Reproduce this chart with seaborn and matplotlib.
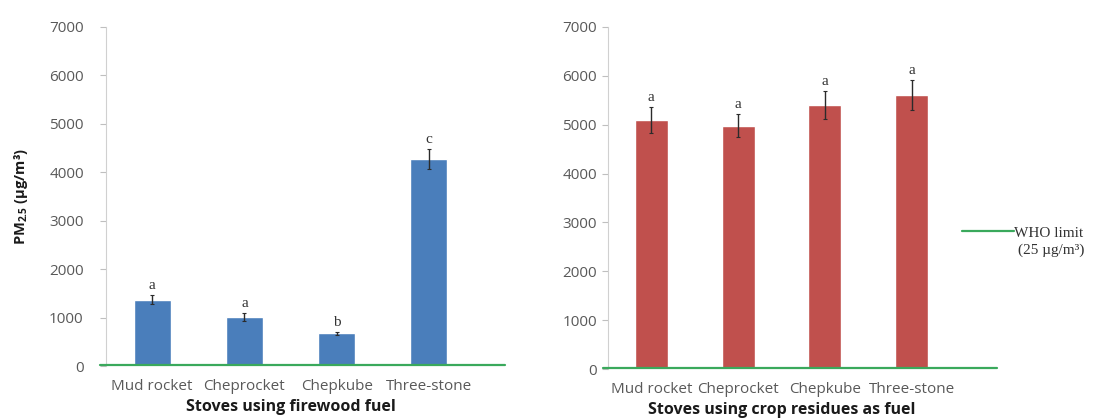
import matplotlib
matplotlib.use("Agg")
from matplotlib import pyplot as plt
import pandas as pd
import seaborn as sns

# values
stoves = ["Mud rocket", "Cheprocket", "Chepkube", "Three-stone"]
firewood_pm = [1370, 1010, 680, 4280]
firewood_err = [100, 80, 30, 210]
firewood_letters = ["a", "a", "b", "c"]
residue_pm = [5100, 4980, 5410, 5610]
residue_err = [270, 240, 290, 300]
residue_letters = ["a", "a", "a", "a"]
who_limit = 25

sns.set_style("white")
plt.rcParams["font.family"] = ["Open Sans", "DejaVu Sans"]
plt.rcParams["mathtext.default"] = "regular"

GREEN = "#3aa95c"
TICK_COLOR = "#595959"


def draw_panel(ax, values, errs, letters, color, xlabel, width, line_right, ypad):
    df = pd.DataFrame({"stove": stoves, "pm": values})
    sns.barplot(data=df, x="stove", y="pm", color=color, width=width,
                saturation=1, ax=ax, zorder=2)
    ax.errorbar(range(len(stoves)), values, yerr=errs, fmt="none",
                ecolor="#2b2b2b", elinewidth=1, capsize=1.5, capthick=0.8, zorder=3)
    for i, (v, e, lab) in enumerate(zip(values, errs, letters)):
        ax.annotate(lab, (i, v + e), xytext=(0, 2), textcoords="offset points",
                    ha="center", va="bottom", fontsize=11,
                    family="Liberation Serif", color="#333333")
    line = ax.axhline(who_limit, xmin=-0.015, xmax=line_right, color=GREEN,
                      lw=1.6, clip_on=False, zorder=4)
    ax.set_xlim(-0.5, len(stoves) - 0.5)
    ax.set_ylim(0, 7000)
    ax.set_yticks(range(0, 7001, 1000))
    ax.set_xticks([i - 0.5 for i in range(len(stoves) + 1)], minor=True)
    ax.tick_params(axis="x", which="major", length=0, pad=9,
                   labelsize=11, labelcolor=TICK_COLOR)
    ax.tick_params(axis="x", which="minor", length=4, color="#bfbfbf", width=0.8)
    ax.tick_params(axis="y", length=4, color="#bfbfbf", width=0.8, pad=ypad,
                   labelsize=11, labelcolor=TICK_COLOR, left=True)
    for side in ["top", "right", "bottom"]:
        ax.spines[side].set_visible(False)
    ax.spines["left"].set_color("#d0d0d0")
    ax.spines["left"].set_linewidth(0.8)
    ax.set_xlabel(xlabel, fontsize=11.5, fontweight="bold", color="#1a1a1a",
                  labelpad=4)
    ax.set_ylabel("")
    return line


fig = plt.figure(figsize=(10.99, 4.19), dpi=100)
ax1 = fig.add_axes([106 / 1099, 53 / 419, 369 / 1099, 339 / 419])
ax2 = fig.add_axes([608 / 1099, 50 / 419, 347 / 1099, 342 / 419])

draw_panel(ax1, firewood_pm, firewood_err, firewood_letters, "#4a7ebb",
           "Stoves using firewood fuel", 0.4, 1.08, 12)
who_line = draw_panel(ax2, residue_pm, residue_err, residue_letters, "#c0504d",
                      "Stoves using crop residues as fuel", 0.38, 1.12, 4)

ax1.set_ylabel("PM$_{2.5}$ (µg/m³)", fontsize=10.5, fontweight="bold",
               color="#1a1a1a", labelpad=14)

leg = ax2.legend([who_line], ["WHO limit"], loc="center left",
                 bbox_to_anchor=(962 / 1099, 1 - 233 / 419),
                 bbox_transform=fig.transFigure, frameon=False,
                 handlelength=3.4, handletextpad=0.0, borderpad=0,
                 borderaxespad=0,
                 prop={"family": "Liberation Serif", "size": 11})
for t in leg.get_texts():
    t.set_color("#333333")
fig.text(1018 / 1099, 1 - 250 / 419, "(25 µg/m³)", ha="left", va="center",
         family="Liberation Serif", fontsize=11, color="#333333")

fig.savefig("out.png", dpi=100)
